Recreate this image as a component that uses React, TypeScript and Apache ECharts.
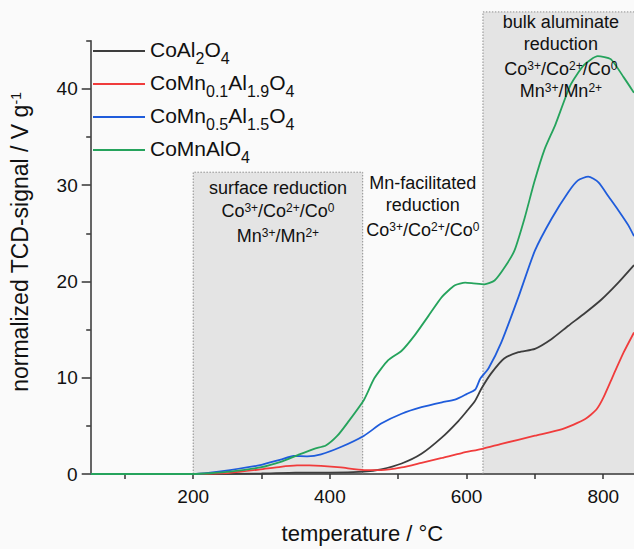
import React, { useEffect, useRef } from "react";
import * as echarts from "echarts";

const FONT = "'Liberation Sans', Arial, sans-serif";

const seriesNames = ["CoAl2O4", "CoMn0.1Al1.9O4", "CoMn0.5Al1.5O4", "CoMnAlO4"];
const seriesColors = ["#3d3d3d", "#f03c3c", "#1f5cdb", "#25a35c"];
const legendRichText: Record<string, string> = {
  "CoAl2O4": "{b|CoAl}{s|2}{b|O}{s|4}",
  "CoMn0.1Al1.9O4": "{b|CoMn}{s|0.1}{b|Al}{s|1.9}{b|O}{s|4}",
  "CoMn0.5Al1.5O4": "{b|CoMn}{s|0.5}{b|Al}{s|1.5}{b|O}{s|4}",
  "CoMnAlO4": "{b|CoMnAlO}{s|4}",
};

// CoAl2O4 (black)
const coAlT = [50, 200, 300, 350, 400, 450, 475, 505, 534, 564, 588, 600, 612, 622, 636, 655, 676, 700, 724, 749, 773, 797, 821, 845];
const coAlV = [0, 0, 0.05, 0.15, 0.15, 0.25, 0.48, 1.09, 2.1, 3.8, 5.5, 6.5, 7.55, 8.9, 10.45, 12.0, 12.65, 13.0, 14.0, 15.4, 16.7, 18.1, 19.8, 21.7];
// CoMn0.1Al1.9O4 (red)
const mn01T = [50, 200, 230, 254, 298, 328, 352, 370, 387, 416, 450, 475, 505, 534, 564, 593, 623, 651, 700, 740, 773, 790, 800, 815, 830, 845];
const mn01V = [0, 0, 0.05, 0.12, 0.48, 0.75, 0.89, 0.9, 0.85, 0.68, 0.41, 0.41, 0.68, 1.16, 1.67, 2.18, 2.62, 3.13, 3.98, 4.66, 5.68, 6.7, 7.9, 10.3, 12.65, 14.7];
// CoMn0.5Al1.5O4 (blue)
const mn05T = [50, 150, 200, 225, 254, 298, 328, 347, 367, 387, 416, 450, 475, 505, 534, 564, 583, 600, 613, 620, 632, 651, 676, 700, 725, 749, 763, 778, 793, 808, 822, 837, 845];
const mn05V = [0, 0, 0, 0.15, 0.41, 0.92, 1.5, 1.87, 1.84, 2.04, 2.8, 3.98, 5.24, 6.26, 6.94, 7.45, 7.72, 8.3, 8.8, 9.9, 10.96, 13.7, 18.4, 23.2, 26.6, 29.3, 30.5, 30.9, 30.3, 28.8, 27.4, 25.8, 24.7];
// CoMnAlO4 (green)
const mn1T = [50, 100, 150, 200, 225, 254, 298, 328, 352, 377, 394, 411, 426, 450, 465, 485, 505, 524, 544, 564, 583, 598, 610, 626, 641, 656, 670, 685, 699, 714, 730, 752, 772, 792, 811, 830, 845];
const mn1V = [0, 0, 0, 0, 0.08, 0.24, 0.68, 1.26, 1.94, 2.62, 2.96, 3.98, 5.34, 7.72, 9.94, 11.8, 12.8, 14.4, 16.4, 18.4, 19.6, 19.87, 19.8, 19.7, 20.1, 21.5, 23.2, 26.6, 30.3, 33.7, 36.3, 40.4, 42.5, 43.4, 43.1, 41.2, 39.6];

const seriesT = [coAlT, mn01T, mn05T, mn1T];
const seriesV = [coAlV, mn01V, mn05V, mn1V];

const xMin = 50;
const xMax = 845;
const yMin = 0;
const yMax = 45;
const xTickValues = [100, 200, 300, 400, 500, 600, 700, 800];
const xLabelValues = [200, 400, 600, 800];
const yMajorValues = [0, 10, 20, 30, 40];
const yMinorValues = [5, 15, 25, 35, 45];

// shaded regions (data space): [fromT, toT, topValue]
const surfaceRegion = [200, 448, 31.35];
const bulkRegion = [624, 845, 48];

const surfaceLines = ["surface reduction", "{b|Co}{p|3+}{b|/Co}{p|2+}{b|/Co}{p|0}", "{b|Mn}{p|3+}{b|/Mn}{p|2+}"];
const surfaceLineT = 324;
const surfaceLineV = [29.45, 27.1, 24.55];
const mnLines = ["Mn-facilitated", "reduction", "{b|Co}{p|3+}{b|/Co}{p|2+}{b|/Co}{p|0}"];
const mnLineT = 536;
const mnLineV = [30.0, 27.7, 25.1];
const bulkLines = ["bulk aluminate", "reduction", "{b|Co}{p|3+}{b|/Co}{p|2+}{b|/Co}{p|0}", "{b|Mn}{p|3+}{b|/Mn}{p|2+}"];
const bulkLineT = 738;
const bulkLineV = [46.7, 44.5, 41.9, 39.6];

const annRich = {
  b: { fontSize: 18, lineHeight: 22, verticalAlign: "top", fontFamily: FONT, fill: "#111" },
  p: { fontSize: 12, lineHeight: 12, verticalAlign: "top", fontFamily: FONT, fill: "#111" },
};

export default function App() {
  const ref = useRef<HTMLDivElement>(null);
  useEffect(() => {
    if (!ref.current) return;
    const chart = echarts.init(ref.current, null, { renderer: "svg" });
    const option: any = {
      animation: false,
      backgroundColor: "#fafafa",
      grid: { left: 90.7, right: 0, top: 40.8, bottom: 69, containLabel: false },
      legend: {
        orient: "vertical",
        left: 93,
        top: 39,
        padding: 0,
        itemWidth: 52,
        itemHeight: 2,
        itemGap: 6,
        icon: "rect",
        data: seriesNames,
        formatter: (n: string) => legendRichText[n],
        textStyle: {
          fontSize: 21,
          fontFamily: FONT,
          color: "#111",
          rich: {
            b: { fontSize: 21, lineHeight: 24, verticalAlign: "top", fontFamily: FONT, color: "#111" },
            s: { fontSize: 16, lineHeight: 16, verticalAlign: "top", padding: [11, 0, 0, 0], fontFamily: FONT, color: "#111" },
          },
        },
      },
      xAxis: {
        type: "value",
        min: xMin,
        max: xMax,
        name: "temperature / °C",
        nameLocation: "middle",
        nameGap: 48,
        nameTextStyle: { fontSize: 22, fontFamily: FONT, color: "#111" },
        splitLine: { show: false },
        axisLine: { show: true, onZero: false, lineStyle: { color: "#333", width: 1.5 } },
        axisTick: { show: true, inside: false, length: 5, customValues: xTickValues, lineStyle: { color: "#333", width: 1.5 } },
        axisLabel: { customValues: xLabelValues, margin: 13, fontSize: 19, fontFamily: FONT, color: "#111" },
      },
      yAxis: [
        {
          type: "value",
          min: yMin,
          max: yMax,
          splitLine: { show: false },
          axisLine: { show: true, onZero: false, lineStyle: { color: "#333", width: 1.5 } },
          axisTick: { show: true, length: 9, customValues: yMajorValues, lineStyle: { color: "#333", width: 1.5 } },
          axisLabel: { customValues: yMajorValues, margin: 13, fontSize: 19, fontFamily: FONT, color: "#111" },
        },
        {
          type: "value",
          min: yMin,
          max: yMax,
          position: "left",
          offset: 0,
          splitLine: { show: false },
          axisLine: { show: false },
          axisTick: { show: true, length: 4.5, customValues: yMinorValues, lineStyle: { color: "#333", width: 1.5 } },
          axisLabel: { show: false },
        },
      ],
      series: seriesNames.map((name, i) => ({
        name,
        type: "line",
        showSymbol: false,
        smooth: 0.2,
        color: seriesColors[i],
        lineStyle: { color: seriesColors[i], width: 1.8 },
        data: seriesT[i].map((t, k) => [t, seriesV[i][k]]),
        z: 3,
      })),
    };
    chart.setOption(option);

    const p = (x: number, y: number) => chart.convertToPixel({ seriesIndex: 0 }, [x, y]) as number[];
    const [sx0, sy0] = p(surfaceRegion[0], 0);
    const [sx1, sy1] = p(surfaceRegion[1], surfaceRegion[2]);
    const [bx0, by0] = p(bulkRegion[0], 0);
    const [bx1, by1] = p(bulkRegion[1], bulkRegion[2]);
    const boxFill = "#e4e4e4";
    const dotted = { stroke: "#8e8e8e", lineWidth: 1, lineDash: [1.5, 1.5], fill: null };
    const axisHalf = 0.8;

    const textEls = (lines: string[], t: number, vs: number[]) =>
      lines.map((s, i) => {
        const [x, y] = p(t, vs[i]);
        return {
          type: "text",
          x,
          y,
          z: 10,
          style: {
            text: s.includes("{") ? s : `{b|${s}}`,
            rich: annRich,
            align: "center",
            verticalAlign: "middle",
            fill: "#111",
            font: `18px ${FONT}`,
          },
        };
      });

    chart.setOption({
      graphic: [
        { type: "rect", z: -1, shape: { x: sx0, y: sy1, width: sx1 - sx0, height: sy0 - sy1 - axisHalf }, style: { fill: boxFill } },
        { type: "rect", z: -1, shape: { x: bx0, y: by1, width: bx1 - bx0 + 2, height: by0 - by1 - axisHalf }, style: { fill: boxFill } },
        { type: "polyline", z: 1, shape: { points: [[sx0, sy0], [sx0, sy1], [sx1, sy1], [sx1, sy0]] }, style: dotted },
        { type: "polyline", z: 1, shape: { points: [[bx0, by0], [bx0, by1], [bx1 + 2, by1]] }, style: dotted },
        ...textEls(surfaceLines, surfaceLineT, surfaceLineV),
        ...textEls(mnLines, mnLineT, mnLineV),
        ...textEls(bulkLines, bulkLineT, bulkLineV),
        {
          type: "text",
          x: 21.7,
          y: 242,
          rotation: Math.PI / 2,
          z: 10,
          style: {
            text: "{b|normalized TCD-signal / V g}{p|-1}",
            rich: {
              b: { fontSize: 23, lineHeight: 26, verticalAlign: "top", fontFamily: FONT, fill: "#111" },
              p: { fontSize: 14, lineHeight: 14, verticalAlign: "top", fontFamily: FONT, fill: "#111" },
            },
            align: "center",
            verticalAlign: "middle",
            fill: "#111",
          },
        },
      ],
    });

    return () => chart.dispose();
  }, []);
  return <div ref={ref} style={{ position: "absolute", left: 0, top: 0, width: 634, height: 549 }} />;
}
